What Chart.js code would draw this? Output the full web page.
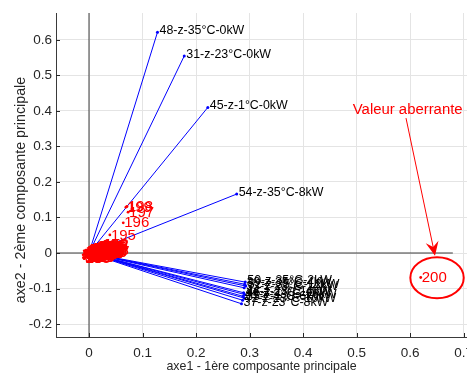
<!DOCTYPE html>
<html><head><meta charset="utf-8">
<script src="https://cdn.jsdelivr.net/npm/chart.js@4"></script>
<style>html,body{margin:0;padding:0;background:#fff;overflow:hidden}#wrap{width:467px;height:374px;position:relative}</style>
</head><body><div id="wrap"><canvas id="c" width="467" height="374"></canvas></div>
<script>
// ---- Variable vectors (loadings) ----
const varLabels = ['48-z-35°C-0kW','31-z-23°C-0kW','45-z-1°C-0kW','54-z-35°C-8kW',
  '50-z-35°C-2kW','39-z-35°C-4kW','52-z-35°C-12kW','33-z-23°C-14kW','44-z-23°C-4kW',
  '46-z-1°C-12kW','41-z-23°C-16kW','35-z-1°C-6kW','42-z-23°C-10kW','37-z-23°C-8kW'];
const varX = [0.128,0.178,0.222,0.276, 0.292,0.291,0.293,0.290,0.289, 0.291,0.288,0.290,0.287,0.285];
const varY = [0.622,0.555,0.410,0.166, -0.082,-0.088,-0.093,-0.098,-0.112, -0.117,-0.122,-0.127,-0.133,-0.143];

// ---- Observations (scores), observation n = index+1 ----
const obsX = [
0.002,0.005,-0.003,0.008,0.012,-0.006,0.000,0.015,0.004,-0.009,0.010,0.018,0.001,-0.002,0.007,0.022,0.003,-0.005,0.013,0.009,
-0.001,0.006,0.016,-0.008,0.011,0.002,0.020,-0.004,0.005,0.014,0.000,0.025,-0.007,0.009,0.003,0.017,-0.010,0.006,0.012,0.001,
0.019,-0.003,0.008,0.004,-0.006,0.013,0.024,0.000,0.010,-0.002,0.007,0.015,-0.009,0.003,0.021,0.005,-0.001,0.011,0.027,-0.005,
0.002,0.016,0.009,-0.004,0.014,0.006,0.000,0.023,-0.008,0.012,0.004,0.018,-0.002,0.008,0.026,0.001,-0.006,0.010,0.003,0.017,
-0.003,0.007,0.020,0.005,-0.011,0.013,0.002,0.009,0.015,-0.001,0.022,0.006,-0.007,0.011,0.004,0.019,0.000,0.008,-0.005,0.014,
0.003,0.025,-0.002,0.010,0.006,-0.009,0.016,0.001,0.012,0.021,-0.004,0.007,0.028,0.002,-0.006,0.013,0.005,0.018,0.009,-0.001,
0.011,0.004,-0.008,0.015,0.000,0.024,0.007,-0.003,0.017,0.003,0.010,-0.010,0.020,0.006,0.001,0.014,-0.005,0.008,0.023,0.002,
-0.002,0.012,0.005,0.019,-0.007,0.009,0.000,0.016,0.004,-0.004,0.013,0.026,0.006,-0.001,0.010,0.003,0.021,-0.009,0.008,0.015,
0.001,-0.006,0.011,0.018,0.005,0.002,0.022,-0.003,0.007,0.014,0.000,0.009,-0.008,0.017,0.004,0.012,0.027,-0.002,0.006,0.010,
0.003,-0.005,0.016,0.008,0.020,0.001,-0.001,0.013,0.005,0.024,-0.004,0.009,0.002,0.011,
0.039,0.064,0.073,0.071,0.069,0.620];
const obsY = [
0.005,-0.003,0.007,0.002,-0.003,0.000,0.007,0.003,0.003,0.006,-0.002,0.012,-0.002,0.005,-0.007,0.017,0.002,-0.010,0.017,0.001,
-0.007,0.012,0.007,-0.014,0.009,0.008,0.006,-0.001,0.014,0.000,0.002,0.011,0.002,-0.006,0.007,0.009,-0.013,0.013,0.003,0.005,
0.019,-0.004,-0.006,0.005,0.004,0.002,0.014,0.011,-0.002,0.001,0.001,0.014,-0.016,0.007,0.012,-0.004,0.009,0.002,0.019,-0.009,
-0.001,-0.001,0.008,0.005,0.003,0.004,0.011,0.005,-0.002,0.004,0.008,-0.001,0.004,0.004,0.007,0.011,-0.007,0.010,-0.004,0.018,
-0.012,0.007,0.018,-0.002,-0.005,0.018,-0.007,0.007,0.005,0.005,0.001,0.008,-0.004,-0.001,0.012,0.006,0.004,-0.002,0.006,0.006,
0.005,0.021,-0.006,0.007,0.014,-0.013,0.011,-0.002,0.013,0.001,0.003,0.004,0.008,0.011,-0.007,0.011,-0.003,0.019,0.003,-0.011,
0.013,-0.003,-0.003,0.019,-0.008,0.015,0.001,0.004,-0.002,0.007,0.006,-0.013,0.021,-0.001,0.005,0.002,0.006,0.002,0.003,0.004,
-0.006,0.008,0.014,0.002,-0.002,0.002,0.006,-0.002,0.007,-0.002,0.000,0.024,-0.001,0.003,0.000,0.011,0.010,-0.015,0.007,0.015,
0.002,0.008,-0.002,0.012,0.000,0.007,0.001,0.003,0.004,0.001,0.010,0.001,0.000,0.003,0.011,0.005,0.005,0.002,0.010,0.001,
0.013,-0.011,0.011,0.001,0.017,-0.010,0.004,0.007,-0.004,0.023,-0.006,0.009,-0.005,0.015,
0.051,0.085,0.115,0.131,0.129,-0.069];
const obsLabels = obsX.map((v, i) => String(i + 1));

// ---- Axes ----
const xTicks = [0, 0.1, 0.2, 0.3, 0.4, 0.5, 0.6, 0.7];
const yTicks = [-0.2, -0.1, 0, 0.1, 0.2, 0.3, 0.4, 0.5, 0.6];
const xTickLabels = ['0','0.1','0.2','0.3','0.4','0.5','0.6','0.7'];
const yTickLabels = ['-0.2','-0.1','0','0.1','0.2','0.3','0.4','0.5','0.6'];
const xTitle = 'axe1 - 1ère composante principale';
const yTitle = 'axe2 - 2ème composante principale';
const noteText = 'Valeur aberrante';

// ---- Layout / style (not data) ----
const X_MIN = -0.0617, X_MAX = 0.7065, Y_MIN = -0.2366, Y_MAX = 0.676;
const AXIS_REACH = 0.68;
const note = { tx: 0.493, ty: 0.403, ax0: 0.5925, ay0: 0.380, ax1: 0.6467, ay1: -0.0076,
               ecx: 0.6505, ecy: -0.0696, erx: 0.0499, ery: 0.0577 };
const FONT = '"Liberation Sans", Arial, Helvetica, sans-serif';
const TXT = '#262626';

const datasets = [];
datasets.push({ label: 'obs', data: obsX.map((v, i) => ({ x: v, y: obsY[i] })), showLine: false,
  pointRadius: 1.4, pointBackgroundColor: '#ff0000', pointBorderWidth: 0, order: 0 });
varLabels.forEach((l, i) => datasets.push({ label: l,
  data: [{ x: 0, y: 0 }, { x: varX[i], y: varY[i] }], showLine: true, borderColor: '#0000ff',
  borderWidth: 1, pointRadius: [0, 1.5], pointBackgroundColor: '#0000ff', pointBorderWidth: 0, order: 1 }));
datasets.push({ label: 'h0', data: [{ x: -AXIS_REACH, y: 0 }, { x: AXIS_REACH, y: 0 }], showLine: true,
  borderColor: '#3c3c3c', borderWidth: 1, pointRadius: 0, order: 2 });
datasets.push({ label: 'v0', data: [{ x: 0, y: -AXIS_REACH }, { x: 0, y: AXIS_REACH }], showLine: true,
  borderColor: '#3c3c3c', borderWidth: 1, pointRadius: 0, order: 2 });

const decoPlugin = {
  id: 'deco',
  afterDraw(chart) {
    const { ctx, scales: { x, y }, chartArea: ca } = chart;
    ctx.save();
    // inward tick marks
    ctx.strokeStyle = '#262626'; ctx.lineWidth = 1;
    ctx.beginPath();
    xTicks.forEach(v => { const p = Math.round(x.getPixelForValue(v)) + 0.5; ctx.moveTo(p, ca.bottom); ctx.lineTo(p, ca.bottom - 4); });
    yTicks.forEach(v => { const p = Math.round(y.getPixelForValue(v)) + 0.5; ctx.moveTo(ca.left, p); ctx.lineTo(ca.left + 4, p); });
    ctx.stroke();
    // variable labels
    ctx.textAlign = 'left'; ctx.textBaseline = 'middle';
    ctx.fillStyle = '#000'; ctx.font = '12.4px ' + FONT;
    varLabels.forEach((t, i) => ctx.fillText(t, x.getPixelForValue(varX[i]) + 2, y.getPixelForValue(varY[i]) - 1.5));
    // observation labels
    ctx.fillStyle = '#ff0000'; ctx.font = '15px ' + FONT;
    obsLabels.forEach((t, i) => ctx.fillText(t, x.getPixelForValue(obsX[i]) + 1, y.getPixelForValue(obsY[i]) + 0.5));
    // annotation
    ctx.font = '14.9px ' + FONT; ctx.textBaseline = 'middle';
    ctx.fillText(noteText, x.getPixelForValue(note.tx), y.getPixelForValue(note.ty));
    const ax0 = x.getPixelForValue(note.ax0), ay0 = y.getPixelForValue(note.ay0);
    const ax1 = x.getPixelForValue(note.ax1), ay1 = y.getPixelForValue(note.ay1);
    const ang = Math.atan2(ay1 - ay0, ax1 - ax0);
    ctx.strokeStyle = '#ff0000'; ctx.lineWidth = 1;
    ctx.beginPath(); ctx.moveTo(ax0, ay0); ctx.lineTo(ax1 - 8 * Math.cos(ang), ay1 - 8 * Math.sin(ang)); ctx.stroke();
    ctx.save(); ctx.translate(ax1, ay1); ctx.rotate(ang);
    ctx.beginPath(); ctx.moveTo(0, 0); ctx.lineTo(-14, -6.5); ctx.lineTo(-9, 0); ctx.lineTo(-14, 6.5); ctx.closePath();
    ctx.fillStyle = '#ff0000'; ctx.fill(); ctx.restore();
    const ecx = x.getPixelForValue(note.ecx), ecy = y.getPixelForValue(note.ecy);
    const erx = Math.abs(x.getPixelForValue(note.ecx + note.erx) - ecx), ery = Math.abs(y.getPixelForValue(note.ecy + note.ery) - ecy);
    ctx.lineWidth = 2; ctx.beginPath(); ctx.ellipse(ecx, ecy, erx, ery, 0, 0, Math.PI * 2); ctx.stroke();
    // axis titles
    ctx.fillStyle = TXT; ctx.textAlign = 'center'; ctx.textBaseline = 'middle';
    ctx.font = '12.4px ' + FONT;
    ctx.fillText(xTitle, (ca.left + ca.right) / 2, 367);
    ctx.save(); ctx.translate(21, 190); ctx.rotate(-Math.PI / 2);
    ctx.font = '14.3px ' + FONT; ctx.fillText(yTitle, 0, 0); ctx.restore();
    ctx.restore();
  }
};

new Chart(document.getElementById('c'), {
  type: 'scatter',
  data: { datasets },
  options: {
    responsive: false, animation: false, devicePixelRatio: 1,
    layout: { padding: { top: 13, right: 0, left: 0, bottom: 0 }, autoPadding: false },
    plugins: { legend: { display: false }, tooltip: { enabled: false } },
    scales: {
      x: {
        type: 'linear', min: X_MIN, max: X_MAX,
        afterBuildTicks: s => { s.ticks = xTicks.map(v => ({ value: v })); },
        afterFit: s => { s.height = 37; s.paddingLeft = 0; s.paddingRight = 0; },
        ticks: { callback: (v) => xTickLabels[xTicks.indexOf(v)] ?? '', color: TXT, font: { size: 13.5, family: FONT }, padding: 8, maxRotation: 0, autoSkip: false },
        grid: { color: '#e4e4e4', drawTicks: false },
        border: { color: '#3a3a3a', width: 1 }
      },
      y: {
        type: 'linear', min: Y_MIN, max: Y_MAX,
        afterBuildTicks: s => { s.ticks = yTicks.map(v => ({ value: v })); },
        afterFit: s => { s.width = 56; s.paddingTop = 0; s.paddingBottom = 0; },
        ticks: { callback: (v) => yTickLabels[yTicks.indexOf(v)] ?? '', color: TXT, font: { size: 13.5, family: FONT }, padding: 4, autoSkip: false },
        grid: { color: '#e4e4e4', drawTicks: false },
        border: { color: '#3a3a3a', width: 1 }
      }
    }
  },
  plugins: [decoPlugin]
});
</script>
</body></html>
